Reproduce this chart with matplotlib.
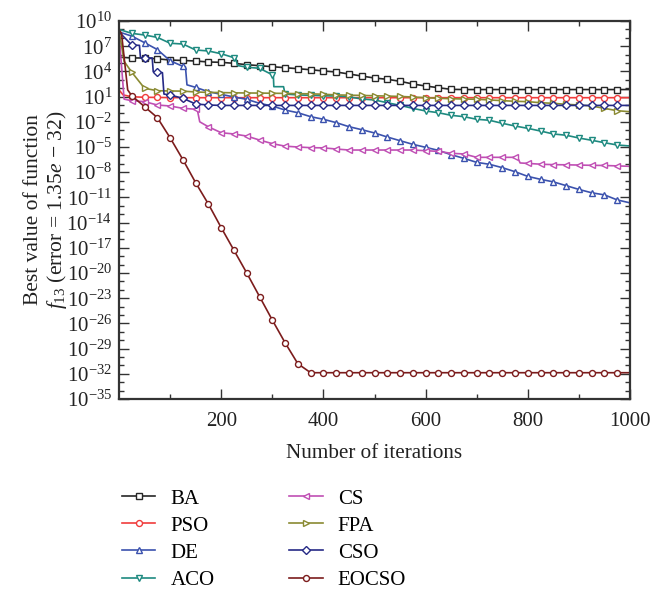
import numpy as np
import matplotlib
matplotlib.use("Agg")
import matplotlib.pyplot as plt
from matplotlib.ticker import NullFormatter

plt.rcParams['font.family'] = ['Liberation Serif', 'DejaVu Serif']
plt.rcParams['mathtext.fontset'] = 'custom'
plt.rcParams['mathtext.rm'] = 'Liberation Serif'
plt.rcParams['mathtext.it'] = 'Liberation Serif:italic'

# iterations sampled every 25 (marker positions)
grid = list(range(0, 1001, 25))

# log10 of best value at each grid iteration
ba_exp = [5.7, 5.6, 5.6, 5.5, 5.35, 5.3, 5.24, 5.12, 5.08, 4.96,
          4.8, 4.68, 4.56, 4.44, 4.32, 4.2, 4.05, 3.93, 3.69, 3.45,
          3.21, 3.06, 2.82, 2.5, 2.26, 2.06, 1.86] + [1.84] * 14
pso_exp = [1.8, 0.98, 0.92, 0.9, 0.88] + [0.87] * 36
de_exp = [8.7, 8.2, 7.42, 6.6, 5.27, 4.6, 2.1, 1.58, 1.27, 0.95,
          0.68, 0.2, -0.12, -0.6, -0.92, -1.39, -1.7, -2.1, -2.58, -2.94,
          -3.33, -3.81, -4.25, -4.68, -5.04, -5.4, -5.92, -6.35, -6.83, -7.06,
          -7.46, -7.94, -8.5, -8.85, -9.15, -9.6, -10.05, -10.45, -10.7, -11.3,
          -11.65]
aco_exp = [9.0, 8.53, 8.33, 8.05, 7.35, 7.26, 6.55, 6.43, 6.1, 5.63,
           4.5, 4.37, 3.6, 1.3, 1.2, 1.15, 1.1, 1.07, 0.98, 0.71,
           0.6, 0.27, -0.04, -0.4, -0.71, -0.92, -1.23, -1.39, -1.7, -1.82,
           -2.18, -2.5, -2.78, -3.1, -3.45, -3.6, -3.93, -4.2, -4.49, -4.76,
           -4.88]
cs_exp = [8.5, 0.51, 0.4, 0.0, -0.12, -0.4, -0.5, -2.6, -3.3, -3.45,
          -3.7, -4.17, -4.6, -4.9, -5.0, -5.08, -5.1, -5.24, -5.36, -5.36,
          -5.36, -5.36, -5.36, -5.36, -5.44, -5.52, -5.75, -5.83, -6.23, -6.23,
          -6.23, -6.23, -6.95, -7.05, -7.1, -7.12, -7.15, -7.18, -7.2, -7.25,
          -7.3]
fpa_exp = [8.9, 3.9, 1.99, 1.7, 1.67, 1.65, 1.55, 1.5, 1.48, 1.45,
           1.43, 1.42, 1.4, 1.38, 1.35, 1.33, 1.28, 1.2, 1.17, 1.14,
           1.1, 1.06, 1.02, 0.95, 0.87, 0.8, 0.75, 0.71, 0.68, 0.6,
           0.52, 0.44, 0.4, 0.27, 0.2, 0.08, 0.0, -0.12, -0.4, -0.68,
           -0.8]
cso_exp = [8.7, 7.14, 5.6, 3.9, 1.19, 0.8, 0.12, 0.0] + [-0.05] * 33
eocso_exp = [9.0, 1.1, -0.2, -1.5, -3.9, -6.5, -9.25, -11.8, -14.6, -17.3,
             -20.0, -22.8, -25.6, -28.3, -30.8, -31.87] + [-31.87] * 25

# extra break points between markers (iteration, log10 value)
ba_steps = []
pso_steps = [(8, 1.2)]
de_steps = [(130, 4.55), (133, 2.4)]
aco_steps = [(228, 5.62), (232, 4.7), (302, 3.57), (303, 2.18), (322, 2.18)]
cs_steps = [(10, 0.7), (153, -0.5), (158, -2.0), (780, -6.25), (785, -6.9)]
fpa_steps = [(10, 5.2)]
cso_steps = [(40, 7.1), (42, 5.65), (65, 5.6), (67, 3.95), (85, 3.85), (88, 1.3)]
eocso_steps = [(5, 8.5), (17, 1.8)]

names = ['BA', 'PSO', 'DE', 'ACO', 'CS', 'FPA', 'CSO', 'EOCSO']
colors = ['#262626', '#f03c3c', '#3b52ae', '#1e8a80',
          '#c04fb4', '#8a8a32', '#262a86', '#7c1c1c']
markers = ['s', 'o', '^', 'v', '<', '>', 'D', 'o']
exps = [ba_exp, pso_exp, de_exp, aco_exp, cs_exp, fpa_exp, cso_exp, eocso_exp]
steps = [ba_steps, pso_steps, de_steps, aco_steps, cs_steps, fpa_steps,
         cso_steps, eocso_steps]

y_tick_exps = list(range(-35, 11, 3))
x_ticks = [200, 400, 600, 800, 1000]

fig = plt.figure(figsize=(6.66, 5.91), dpi=100)
ax = fig.add_axes([119 / 666, 1 - 399 / 591, 511 / 666, 378 / 591])

for name, c, m, e, st in zip(names, colors, markers, exps, steps):
    pts = sorted(list(zip(grid, e)) + st)
    xs = np.array([p[0] for p in pts])
    ys = 10.0 ** np.array([p[1] for p in pts])
    mk = [(x % 25 == 0) and 0 < x < 1000 for x in xs]
    ax.plot(xs, ys, color=c, lw=1.2, marker=m, markevery=mk,
            ms=4.3 if m != 'D' else 3.7, mfc='white', mec=c, mew=1.0,
            label=name)

ax.set_yscale('log')
ax.set_xlim(0, 1000)
ax.set_ylim(1e-35, 1e10)
ax.set_xticks(x_ticks)
ax.set_xticks(list(range(100, 1000, 200)), minor=True)
ax.set_yticks([10.0 ** k for k in y_tick_exps])
ax.set_yticks([10.0 ** k for k in range(-35, 11)], minor=True)
ax.yaxis.set_minor_formatter(NullFormatter())
ax.tick_params(which='both', direction='in', top=True, right=True,
               labelsize=15, colors='#333333', labelcolor='#222222')
ax.tick_params(which='major', length=7, width=1.0)
ax.tick_params(which='minor', length=3.5, width=1.0)
ax.tick_params(axis='x', pad=9)
ax.tick_params(axis='y', pad=5)
for s in ax.spines.values():
    s.set_linewidth(1.6)
    s.set_color('#333333')

ax.set_xlabel('Number of iterations', fontsize=15.2, labelpad=10,
              color='#222222')
ax.set_ylabel('Best value of function\n$f_{13}$ (error = 1.35$e$ \u2212 32)',
              fontsize=15.5, color='#222222', labelpad=-2, linespacing=1.15)

fig.legend(loc='upper left', bbox_to_anchor=(122 / 666, 1 - 489 / 591),
           ncol=2, frameon=False, fontsize=15, handlelength=1.6,
           handletextpad=0.72, columnspacing=3.6, labelspacing=0.36,
           borderpad=0, borderaxespad=0)

fig.savefig('out.png', dpi=100)
